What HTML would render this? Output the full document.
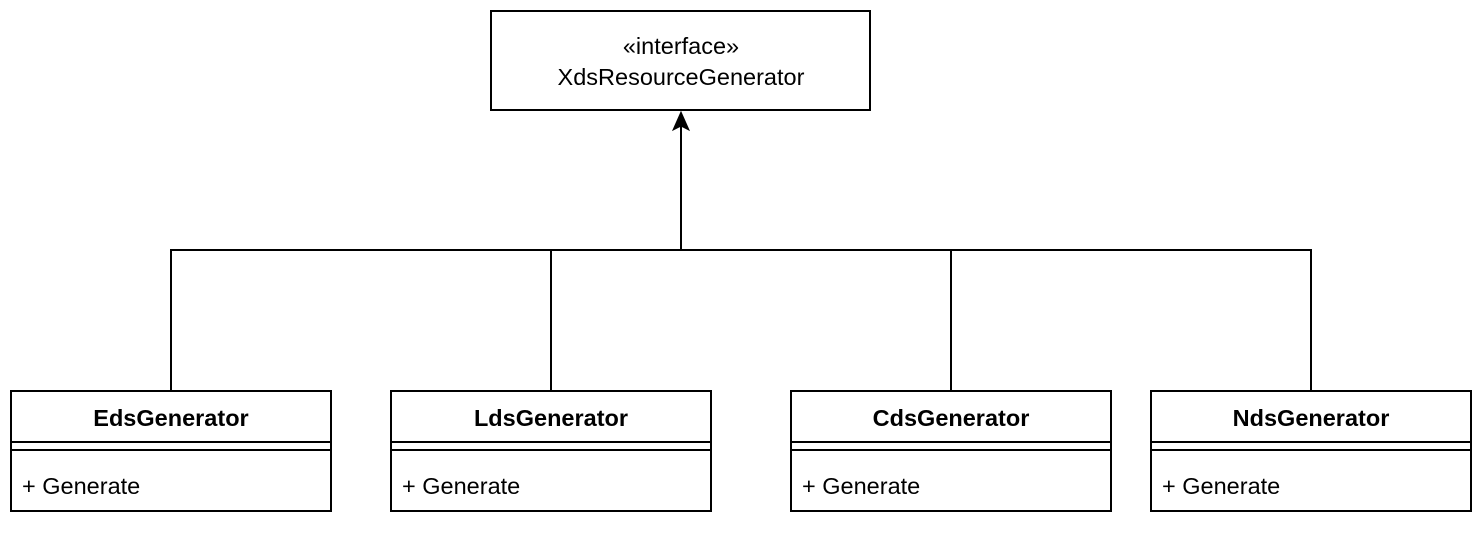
<!DOCTYPE html>
<html><head><style>body{margin:0;background:#fff}</style></head><body>
<svg width="1482" height="528" xmlns="http://www.w3.org/2000/svg" font-family="Liberation Sans, Arial, sans-serif">
<rect x="0" y="0" width="1482" height="528" fill="#fff"/>
<g fill="none" stroke="#000" stroke-width="2">
<rect x="491" y="11" width="379" height="99"/>
<path d="M681 250V122M171 391V250H1311V391M551 250V391M951 250V391"/>
</g>
<path d="M681 112L673 130L681 126L689 130Z" fill="#000" stroke="#000" stroke-width="1"/>
<text x="681" y="54" font-size="23.5" text-anchor="middle">«interface»</text>
<text x="681" y="85" font-size="23.5" text-anchor="middle">XdsResourceGenerator</text>
<g fill="none" stroke="#000" stroke-width="2">
<rect x="11" y="391" width="320" height="120"/><path d="M11 442H331M11 450H331"/>
<rect x="391" y="391" width="320" height="120"/><path d="M391 442H711M391 450H711"/>
<rect x="791" y="391" width="320" height="120"/><path d="M791 442H1111M791 450H1111"/>
<rect x="1151" y="391" width="320" height="120"/><path d="M1151 442H1471M1151 450H1471"/>
</g>
<g font-size="23.5">
<text x="171" y="426" font-weight="bold" text-anchor="middle">EdsGenerator</text>
<text x="551" y="426" font-weight="bold" text-anchor="middle">LdsGenerator</text>
<text x="951" y="426" font-weight="bold" text-anchor="middle">CdsGenerator</text>
<text x="1311" y="426" font-weight="bold" text-anchor="middle">NdsGenerator</text>
<text x="22" y="494">+ Generate</text>
<text x="402" y="494">+ Generate</text>
<text x="802" y="494">+ Generate</text>
<text x="1162" y="494">+ Generate</text>
</g>
</svg>
</body></html>
